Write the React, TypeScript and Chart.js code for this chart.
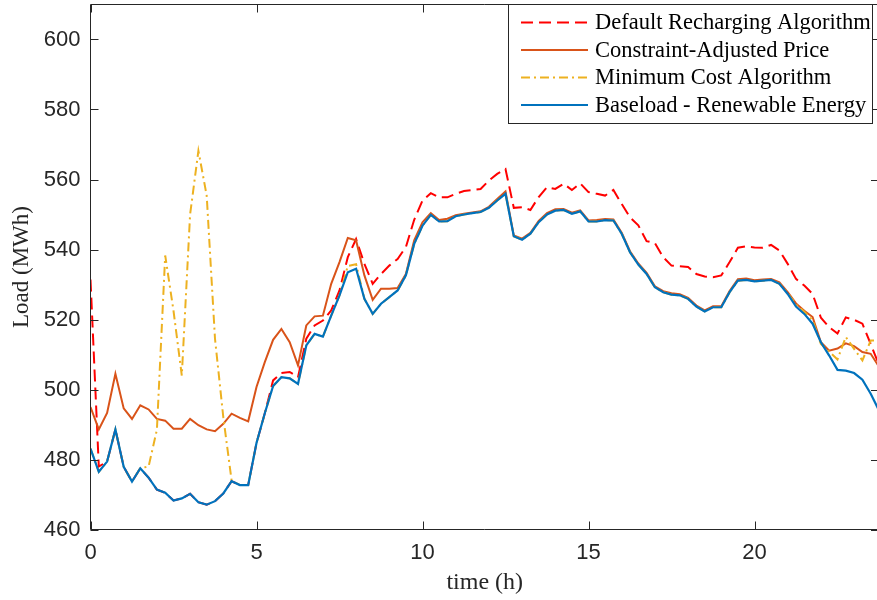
import React, { useEffect, useRef } from "react";
import { Chart, registerables } from "chart.js";

Chart.register(...registerables);

// time axis: quarter-hour steps over one day (0 .. 23.75 h)
const STEP_H = 0.25;
const N_STEPS = 96;
const timeH: number[] = Array.from({ length: N_STEPS }, (_, i) => i * STEP_H);

const xTicks = [0, 5, 10, 15, 20];
const yTicks = [460, 480, 500, 520, 540, 560, 580, 600];

const seriesNames = [
  "Default Recharging Algorithm",
  "Constraint-Adjusted Price",
  "Minimum Cost Algorithm",
  "Baseload - Renewable Energy",
];

// Default Recharging Algorithm (MWh)
const defaultRecharging = [
  531.4, 478.0, 479.4, 488.6, 477.9, 473.7, 477.5, 474.8,
  471.4, 470.5, 468.3, 468.9, 470.2, 467.8, 467.1, 468.1,
  470.3, 473.8, 472.7, 472.7, 484.7, 493.2, 502.6, 504.7,
  505.0, 503.5, 514.5, 518.3, 519.7, 522.6, 528.3, 537.8,
  543.0, 535.9, 530.2, 533.0, 535.4, 537.3, 540.7, 548.5,
  554.0, 556.1, 554.9, 554.9, 555.9, 556.7, 557.0, 557.3,
  559.7, 561.6, 563.0, 551.9, 552.1, 551.3, 555.0, 557.8,
  557.3, 558.8, 557.0, 558.9, 556.4, 555.9, 555.4, 557.0,
  553.0, 549.2, 546.9, 542.4, 541.8, 537.8, 535.4, 535.2,
  535.0, 533.0, 532.3, 532.1, 532.6, 536.4, 540.5, 540.9,
  540.6, 540.5, 541.3, 539.7, 535.9, 531.6, 529.7, 527.3,
  520.5, 517.8, 516.0, 520.6, 519.9, 518.8, 513.0, 507.0,
];

// Constraint-Adjusted Price (MWh)
const constraintAdjusted = [
  495.0, 488.6, 493.3, 504.5, 494.6, 491.6, 495.5, 494.3,
  491.6, 491.1, 488.8, 488.8, 491.6, 489.8, 488.6, 488.1,
  490.2, 493.1, 491.9, 490.9, 500.7, 507.8, 514.2, 517.3,
  513.5, 506.9, 518.3, 520.9, 521.1, 530.2, 536.4, 543.3,
  542.6, 532.6, 525.6, 528.8, 528.8, 529.0, 533.0, 542.6,
  547.8, 550.4, 548.4, 548.8, 549.8, 550.2, 550.6, 550.9,
  552.2, 554.4, 556.6, 544.0, 543.1, 544.8, 548.2, 550.4,
  551.5, 551.6, 550.5, 551.2, 548.3, 548.4, 548.7, 548.6,
  544.8, 539.5, 536.0, 533.3, 529.5, 528.1, 527.5, 527.2,
  526.2, 524.0, 522.6, 523.8, 523.8, 528.1, 531.5, 531.7,
  531.2, 531.4, 531.6, 530.6, 527.8, 524.6, 522.5, 520.7,
  513.5, 511.1, 511.7, 513.2, 512.4, 510.7, 510.2, 506.5,
];

// Minimum Cost Algorithm (MWh)
const minimumCost = [
  483.1, 476.5, 479.4, 488.6, 477.9, 473.7, 477.5, 478.0,
  488.5, 538.3, 522.5, 504.0, 550.0, 568.2, 555.4, 514.5,
  492.1, 474.0, 472.7, 472.7, 484.7, 493.2, 501.0, 503.5,
  503.2, 501.6, 512.6, 515.9, 515.1, 521.1, 526.9, 535.3,
  535.8, 525.9, 521.6, 524.5, 526.4, 528.3, 532.6, 541.6,
  546.8, 549.9, 548.0, 548.1, 549.5, 550.0, 550.4, 550.7,
  551.9, 554.0, 555.9, 543.8, 542.8, 544.5, 547.8, 550.0,
  551.1, 551.3, 550.2, 550.9, 548.0, 548.0, 548.4, 548.3,
  544.5, 539.2, 535.7, 533.0, 529.2, 527.8, 527.1, 526.9,
  525.9, 523.7, 522.3, 523.5, 523.5, 527.8, 531.1, 531.3,
  530.9, 531.1, 531.3, 530.2, 527.5, 524.3, 522.2, 519.8,
  513.0, 510.8, 508.6, 515.0, 511.6, 508.3, 514.0, 514.0,
];

// Baseload - Renewable Energy (MWh)
const baseloadRenewable = [
  483.1, 476.5, 479.4, 488.6, 477.9, 473.7, 477.5, 474.8,
  471.4, 470.5, 468.3, 468.9, 470.2, 467.8, 467.1, 468.1,
  470.3, 473.8, 472.7, 472.7, 484.7, 493.2, 501.0, 503.5,
  503.2, 501.6, 512.6, 515.9, 515.1, 521.1, 526.9, 533.5,
  534.5, 525.9, 521.6, 524.5, 526.4, 528.3, 532.6, 541.6,
  546.8, 549.9, 548.0, 548.1, 549.5, 550.0, 550.4, 550.7,
  551.9, 554.0, 555.9, 543.8, 542.8, 544.5, 547.8, 550.0,
  551.1, 551.3, 550.2, 550.9, 548.0, 548.0, 548.4, 548.3,
  544.5, 539.2, 535.7, 533.0, 529.2, 527.8, 527.1, 526.9,
  525.9, 523.7, 522.3, 523.5, 523.5, 527.8, 531.1, 531.3,
  530.9, 531.1, 531.3, 530.2, 527.3, 523.7, 521.6, 518.8,
  513.5, 509.7, 505.6, 505.4, 504.7, 502.8, 498.8, 494.0,
];

const AXIS_COLOR = "#262626";
const TICK_FONT = "Liberation Sans, Arial, sans-serif";
const SERIF = "Liberation Serif, Times New Roman, serif";

const framePlugin = {
  id: "matlabFrame",
  afterDatasetsDraw(chart: any) {
    const { ctx, chartArea: a, scales } = chart;
    ctx.save();
    ctx.strokeStyle = AXIS_COLOR;
    ctx.lineWidth = 1;
    ctx.setLineDash([]);
    ctx.beginPath();
    ctx.rect(a.left, a.top, a.right - a.left, a.bottom - a.top);
    ctx.stroke();
    const tl = 8;
    ctx.beginPath();
    for (const v of xTicks) {
      const x = Math.round(scales.x.getPixelForValue(v)) + 0.5;
      ctx.moveTo(x, a.bottom);
      ctx.lineTo(x, a.bottom - tl);
      ctx.moveTo(x, a.top);
      ctx.lineTo(x, a.top + tl);
    }
    for (const v of yTicks) {
      const y = Math.round(scales.y.getPixelForValue(v)) + 0.5;
      ctx.moveTo(a.left, y);
      ctx.lineTo(a.left + tl, y);
      ctx.moveTo(a.right, y);
      ctx.lineTo(a.right - tl, y);
    }
    ctx.stroke();
    ctx.restore();
  },
  afterDraw(chart: any) {
    const { ctx } = chart;
    const box = { l: 508.5, t: 4.5, r: 872.5, b: 123.5 };
    ctx.save();
    ctx.fillStyle = "#ffffff";
    ctx.fillRect(box.l, box.t, box.r - box.l, box.b - box.t);
    ctx.strokeStyle = AXIS_COLOR;
    ctx.lineWidth = 1;
    ctx.setLineDash([]);
    ctx.strokeRect(box.l, box.t, box.r - box.l, box.b - box.t);
    const rows = [22.5, 50, 77.5, 105];
    chart.data.datasets.forEach((ds: any, i: number) => {
      const y = rows[i];
      ctx.beginPath();
      ctx.strokeStyle = ds.borderColor;
      ctx.lineWidth = ds.borderWidth;
      ctx.setLineDash(ds.borderDash || []);
      ctx.moveTo(521, y);
      ctx.lineTo(588, y);
      ctx.stroke();
      ctx.setLineDash([]);
      ctx.fillStyle = "#000000";
      ctx.font = `22.5px ${SERIF}`;
      ctx.textBaseline = "middle";
      ctx.textAlign = "left";
      ctx.fillText(ds.label, 595, y + 1);
    });
    ctx.restore();
  },
};

export default function App() {
  const canvasRef = useRef<HTMLCanvasElement | null>(null);

  useEffect(() => {
    if (!canvasRef.current) return;
    const mk = (vals: number[]) => vals.map((v, i) => ({ x: timeH[i], y: v }));
    const chart = new Chart(canvasRef.current, {
      type: "line",
      data: {
        datasets: [
          {
            label: seriesNames[0],
            data: mk(defaultRecharging),
            borderColor: "#FF0000",
            borderWidth: 2,
            borderDash: [12, 6],
            order: 4,
          },
          {
            label: seriesNames[1],
            data: mk(constraintAdjusted),
            borderColor: "#D95319",
            borderWidth: 2,
            order: 3,
          },
          {
            label: seriesNames[2],
            data: mk(minimumCost),
            borderColor: "#EDB120",
            borderWidth: 2,
            borderDash: [9, 4, 2, 4],
            order: 2,
          },
          {
            label: seriesNames[3],
            data: mk(baseloadRenewable),
            borderColor: "#0072BD",
            borderWidth: 2.2,
            order: 1,
          },
        ],
      },
      options: {
        animation: false,
        responsive: true,
        maintainAspectRatio: false,
        layout: { padding: { left: 0, right: 1, top: 4.5, bottom: 0 } },
        elements: { point: { radius: 0 }, line: { tension: 0, fill: false } },
        plugins: { legend: { display: false }, tooltip: { enabled: false } },
        scales: {
          x: {
            type: "linear",
            min: 0,
            max: 23.75,
            afterFit: (s: any) => {
              s.height = 70.5;
              s.paddingLeft = 0;
              s.paddingRight = 0;
            },
            afterBuildTicks: (s: any) => {
              s.ticks = xTicks.map((v) => ({ value: v }));
            },
            grid: { display: false, drawTicks: false },
            border: { display: false },
            ticks: {
              includeBounds: false,
              color: AXIS_COLOR,
              font: { family: TICK_FONT, size: 22 },
              padding: 10,
              maxRotation: 0,
            },
            title: {
              display: true,
              text: "time (h)",
              color: AXIS_COLOR,
              font: { family: SERIF, size: 24 },
              padding: { top: 0, bottom: 3 },
            },
          },
          y: {
            type: "linear",
            min: 460,
            max: 610,
            afterFit: (s: any) => {
              s.width = 90.5;
              s.paddingTop = 0;
              s.paddingBottom = 0;
            },
            afterBuildTicks: (s: any) => {
              s.ticks = yTicks.map((v) => ({ value: v }));
            },
            grid: { display: false, drawTicks: false },
            border: { display: false },
            ticks: {
              includeBounds: false,
              color: AXIS_COLOR,
              font: { family: TICK_FONT, size: 22 },
              padding: 10,
            },
            title: {
              display: true,
              text: "Load (MWh)",
              color: AXIS_COLOR,
              font: { family: SERIF, size: 23 },
              padding: { top: 8, bottom: 0 },
            },
          },
        },
      },
      plugins: [framePlugin],
    });
    return () => chart.destroy();
  }, []);

  return (
    <div
      style={{
        position: "fixed",
        left: 0,
        top: 0,
        width: 880,
        height: 600,
        background: "#ffffff",
      }}
    >
      <canvas ref={canvasRef} />
    </div>
  );
}
